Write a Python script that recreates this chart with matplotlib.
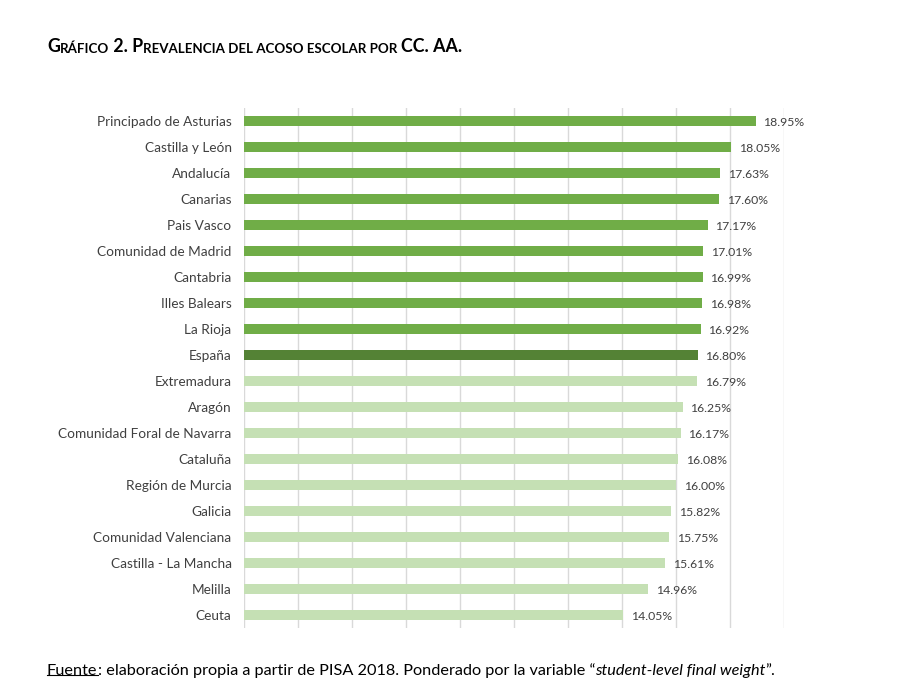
import matplotlib
matplotlib.use("Agg")
import matplotlib.pyplot as plt
from matplotlib.lines import Line2D


#---------
# DATA
#---------

regiones = ["Principado de Asturias", "Castilla y León", "Andalucía", "Canarias",
            "Pais Vasco", "Comunidad de Madrid", "Cantabria", "Illes Balears",
            "La Rioja", "España", "Extremadura", "Aragón",
            "Comunidad Foral de Navarra", "Cataluña", "Región de Murcia", "Galicia",
            "Comunidad Valenciana", "Castilla - La Mancha", "Melilla", "Ceuta"]

prevalencia = [18.95, 18.05, 17.63, 17.60, 17.17, 17.01, 16.99, 16.98, 16.92, 16.80,
               16.79, 16.25, 16.17, 16.08, 16.00, 15.82, 15.75, 15.61, 14.96, 14.05]

media_espana = 16.80

VERDE = "#70AD47"
VERDE_OSCURO = "#548235"
VERDE_CLARO = "#C5E0B4"
GRIS = "#404040"

plt.rcParams['font.family'] = ['Lato', 'DejaVu Sans']


#---------
# HELPERS
#---------

# writes pieces of text one after the other, each one starting where the last ended
def runs(fig, x, y, pieces):
    txt, size, weight, style = pieces[0]
    arts = [fig.text(x, y, txt, fontsize=size, fontweight=weight, fontstyle=style,
                     color="black", va="bottom", ha="left")]
    for txt, size, weight, style in pieces[1:]:
        arts.append(plt.annotate(txt, xy=(1, 0), xycoords=arts[-1], va="bottom", ha="left",
                                 fontsize=size, fontweight=weight, fontstyle=style,
                                 color="black", annotation_clip=False))
    return arts


#------
# MAIN
#------

fig = plt.figure(figsize=(9, 6.83), dpi=100)
ax = fig.add_axes([244 / 900, 1 - 628 / 683, 540 / 900, 520 / 683])

colores = []
for r, v in zip(regiones, prevalencia):
    if r == "España":
        colores.append(VERDE_OSCURO)
    elif v > media_espana:
        colores.append(VERDE)
    else:
        colores.append(VERDE_CLARO)

pos = list(range(len(regiones)))
ax.barh(pos, prevalencia, height=0.38, color=colores, zorder=3)

for p, v in zip(pos, prevalencia):
    ax.annotate(f"{v:.2f}%", xy=(v, p), xytext=(5.5, 0), textcoords="offset points",
                va="center_baseline", ha="left", fontsize=8.8, color=GRIS)

ax.set_xlim(0, 20)
ax.set_ylim(len(regiones) - 0.5, -0.5)
ax.set_xticks(range(0, 21, 2))
ax.set_xticklabels([])
ax.set_yticks(pos)
ax.set_yticklabels(regiones, fontsize=9.8, color=GRIS)
ax.tick_params(axis="both", length=0, pad=9)
ax.grid(axis="x", color="#D9D9D9", linewidth=1, zorder=0)
for s in ax.spines.values():
    s.set_visible(False)

# title in small caps
runs(fig, 47 / 900, 1 - 55 / 683, [
    ("G", 12.8, "bold", "normal"),
    ("RÁFICO", 9.6, "bold", "normal"),
    (" 2. P", 12.8, "bold", "normal"),
    ("REVALENCIA DEL ACOSO ESCOLAR POR ", 9.6, "bold", "normal"),
    ("CC. AA.", 12.8, "bold", "normal"),
])

# source note
nota = runs(fig, 47 / 900, 1 - 678 / 683, [
    ("Fuente", 11.7, "normal", "normal"),
    (": elaboración propia a partir de PISA 2018. Ponderado por la variable “", 11.7, "normal", "normal"),
    ("student-level final weight", 11.7, "normal", "italic"),
    ("”.", 11.7, "normal", "normal"),
])

fig.canvas.draw()
bb = nota[0].get_window_extent()
yl = bb.y0 + 3.5
fig.add_artist(Line2D([bb.x0 / 900, bb.x1 / 900], [yl / 683, yl / 683],
                      transform=fig.transFigure, color="black", linewidth=0.8))

fig.savefig("out.png", dpi=100)
